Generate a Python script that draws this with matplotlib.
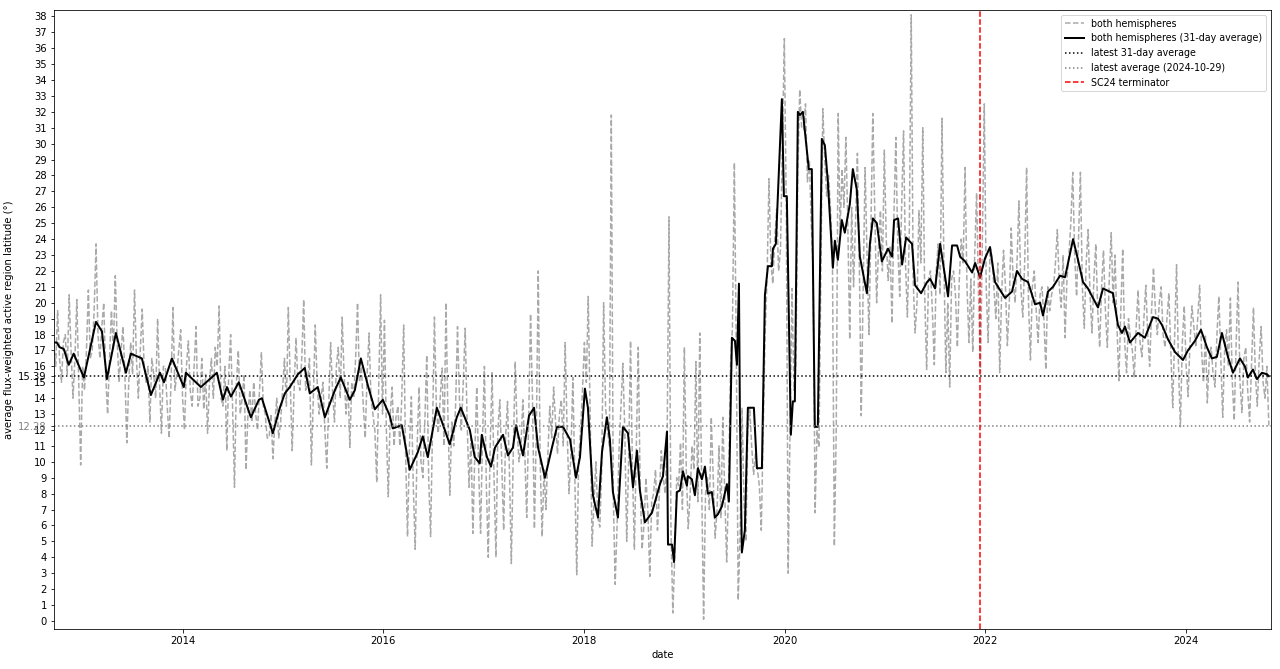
import numpy as np
import pandas as pd
import matplotlib
matplotlib.use("Agg")
import matplotlib.pyplot as plt
import matplotlib.dates as mdates

# Valori letti a occhio dal grafico originale (un valore ogni 7 giorni)
raw_start = "2012-09-18"
raw_step = "7D"
raw_lat = [
    # 2012-09 .. 2013-09
    17.5, 16.0, 19.5, 16.5, 15.0, 17.5, 18.0, 15.5, 20.5, 17.0, 14.0, 16.5, 20.2,
    15.0, 9.8, 16.0, 14.5, 17.0, 20.8, 16.5, 17.0, 19.5, 23.7, 18.0, 16.5, 18.5,
    20.0, 15.5, 13.0, 16.5, 19.5, 17.0, 21.7, 17.5, 15.0, 17.0, 18.5, 15.5, 11.2,
    15.0, 17.5, 15.5, 20.8, 16.5, 14.0, 17.0, 19.6, 16.0, 15.0, 16.0, 12.5, 16.5,
    # 2013-09 .. 2014-09
    15.5, 14.0, 19.0, 15.0, 11.8, 16.0, 16.0, 13.5, 11.5, 15.0, 19.7, 14.5, 15.5,
    17.0, 18.3, 14.0, 12.0, 16.0, 17.6, 14.5, 13.5, 16.0, 18.5, 13.5, 14.0, 16.5,
    13.3, 15.5, 11.8, 15.0, 16.5, 14.0, 17.2, 16.0, 19.8, 14.0, 13.5, 16.0, 10.7,
    15.5, 18.0, 13.5, 8.4, 15.0, 17.0, 13.0, 14.0, 15.5, 9.5, 13.0, 14.5, 12.5,
    # 2014-09 .. 2015-09
    15.0, 13.0, 12.0, 14.5, 16.9, 13.5, 13.0, 11.5, 11.5, 13.0, 10.2, 12.5, 14.0,
    11.5, 12.5, 14.5, 16.5, 13.5, 19.7, 15.0, 10.7, 14.5, 17.8, 15.0, 14.5, 16.5,
    20.2, 14.5, 15.0, 16.5, 9.8, 14.0, 18.6, 15.0, 13.0, 14.0, 15.0, 12.0, 9.6,
    13.5, 17.5, 14.5, 12.5, 16.0, 17.2, 14.0, 19.1, 15.5, 13.0, 15.0, 10.9, 15.0,
    # 2015-09 .. 2016-09
    14.0, 16.5, 20.0, 15.0, 16.0, 13.5, 11.5, 15.5, 18.1, 14.0, 13.0, 12.0, 8.7,
    14.5, 20.5, 13.0, 18.9, 12.0, 7.8, 13.0, 14.7, 11.0, 12.8, 13.5, 11.0, 14.0,
    18.6, 10.5, 5.3, 11.0, 14.1, 8.5, 4.5, 11.0, 14.7, 10.0, 9.0, 12.5, 16.7,
    9.0, 5.3, 12.0, 19.1, 13.5, 11.8, 14.0, 15.9, 11.0, 20.0, 13.0, 7.9, 12.5,
    # 2016-09 .. 2017-09
    11.0, 13.5, 18.5, 14.0, 12.0, 15.0, 18.4, 12.5, 8.4, 11.5, 5.5, 10.5, 14.7,
    9.5, 5.5, 11.5, 16.0, 8.5, 4.0, 11.0, 15.6, 9.0, 4.0, 12.0, 13.9, 10.0,
    5.7, 11.5, 13.8, 9.5, 3.6, 10.5, 16.3, 12.0, 10.0, 11.0, 13.9, 10.5, 6.5,
    12.5, 19.3, 14.0, 5.8, 12.0, 22.0, 10.0, 5.3, 9.5, 7.0, 10.5, 13.5, 11.5,
    # 2017-09 .. 2018-09
    14.7, 12.5, 10.5, 13.0, 13.9, 11.0, 17.5, 12.0, 8.0, 10.5, 15.3, 9.0, 2.9,
    10.0, 12.0, 14.5, 17.5, 15.0, 20.4, 13.0, 4.7, 7.5, 10.0, 6.5, 5.9, 9.5,
    20.0, 13.5, 12.0, 11.0, 31.8, 8.0, 2.3, 6.0, 10.7, 13.5, 16.2, 12.0, 5.0,
    10.0, 17.6, 9.5, 4.5, 11.0, 17.2, 8.5, 4.5, 6.0, 9.0, 7.0, 2.8, 7.5,
    # 2018-09 .. 2019-09
    8.0, 9.5, 5.7, 8.0, 10.7, 9.0, 8.0, 11.0, 25.4, 6.0, 0.5, 4.0, 9.0,
    8.5, 11.2, 7.0, 17.2, 9.5, 5.8, 8.0, 11.0, 9.5, 16.3, 7.5, 18.1, 8.5,
    0.1, 8.0, 9.0, 7.0, 12.8, 9.0, 5.2, 7.0, 11.0, 6.5, 12.8, 8.0, 3.7,
    8.5, 16.0, 18.5, 28.8, 17.0, 1.3, 5.5, 13.4, 7.5, 5.0, 12.0, 13.4, 11.0,
    # 2019-09 .. 2020-09
    9.2, 10.5, 9.5, 8.5, 5.7, 12.0, 18.1, 21.5, 27.8, 22.5, 21.2, 24.0, 25.9,
    22.0, 23.4, 30.0, 36.6, 26.0, 3.0, 12.5, 20.9, 14.5, 16.0, 28.0, 33.4, 31.0,
    30.9, 32.5, 27.6, 29.0, 25.0, 22.0, 6.8, 12.0, 10.9, 22.0, 32.2, 29.0, 26.7,
    28.0, 25.9, 23.0, 4.7, 12.0, 31.9, 24.5, 28.4, 26.0, 30.4, 25.0, 17.7, 26.0,
    # 2020-09 .. 2021-09
    21.0, 25.0, 29.4, 22.5, 12.9, 21.0, 28.5, 23.0, 18.0, 24.5, 31.9, 26.0, 20.0,
    23.5, 25.8, 22.0, 29.6, 24.0, 21.4, 23.5, 18.7, 25.5, 30.4, 23.5, 20.4, 26.0,
    30.8, 22.5, 19.1, 24.5, 38.1, 21.5, 18.1, 20.0, 25.8, 22.5, 31.0, 20.5, 15.8,
    21.5, 22.0, 19.5, 16.1, 22.0, 23.7, 20.5, 31.6, 22.5, 15.6, 20.0, 14.7, 21.5,
    # 2021-09 .. 2022-09
    22.0, 20.5, 17.2, 21.5, 24.0, 22.5, 28.5, 21.0, 17.5, 21.5, 16.9, 23.0, 26.9,
    20.5, 15.6, 24.0, 32.5, 21.0, 17.5, 23.5, 22.9, 21.0, 19.0, 22.5, 15.6, 20.5,
    23.3, 21.0, 17.3, 20.0, 24.7, 21.5, 20.0, 22.5, 26.4, 21.0, 19.1, 22.5, 28.5,
    20.0, 16.4, 21.0, 22.0, 19.5, 17.5, 20.5, 21.0, 19.0, 15.8, 21.0, 19.5, 20.5,
    # 2022-09 .. 2023-09
    21.0, 22.5, 24.6, 21.0, 19.7, 23.0, 17.8, 21.5, 23.0, 25.0, 28.2, 23.0, 20.4,
    24.0, 28.2, 21.0, 18.4, 22.5, 24.6, 20.5, 18.1, 21.5, 23.7, 19.5, 17.2, 21.0,
    23.3, 19.5, 17.2, 21.5, 24.4, 20.0, 23.0, 18.5, 15.1, 19.5, 23.4, 17.5, 15.6,
    19.0, 17.8, 17.0, 15.3, 18.5, 20.8, 17.5, 16.6, 19.0, 21.1, 18.0, 16.0, 19.5,
    # 2023-09 .. 2024-09
    22.2, 19.5, 18.0, 20.0, 21.0, 18.0, 17.2, 19.0, 20.6, 17.0, 13.4, 18.0, 22.4,
    16.0, 12.2, 17.5, 19.8, 16.0, 14.1, 17.5, 19.8, 18.5, 17.2, 19.0, 21.1, 17.0,
    15.0, 18.0, 13.7, 16.5, 17.2, 15.5, 14.7, 18.0, 20.4, 16.5, 12.8, 17.0, 18.3,
    16.0, 20.3, 15.0, 12.6, 17.5, 21.3, 15.0, 13.1, 16.5, 17.2, 14.5, 12.5, 16.0,
    # 2024-09 .. 2024-10-29
    19.7, 15.5, 13.5, 16.5, 18.5, 15.0, 14.0, 16.0, 12.28,
]

# media mobile a 31 giorni (anno decimale, latitudine)
avg_year = [
    2012.714, 2012.744, 2012.774, 2012.814, 2012.864, 2012.913, 2013.013, 2013.133,
    2013.193, 2013.242, 2013.332, 2013.432, 2013.482, 2013.591, 2013.681, 2013.771,
    2013.811, 2013.890, 2014.010, 2014.030, 2014.180, 2014.339, 2014.399, 2014.439,
    2014.479, 2014.558, 2014.678, 2014.758, 2014.788, 2014.897, 2014.967, 2015.017,
    2015.067, 2015.147, 2015.216, 2015.266, 2015.346, 2015.416, 2015.516, 2015.575,
    2015.665, 2015.715, 2015.775, 2015.845, 2015.914, 2015.994, 2016.064, 2016.094,
    2016.184, 2016.263, 2016.343, 2016.393, 2016.443, 2016.533, 2016.602, 2016.662,
    2016.732, 2016.772, 2016.862, 2016.911, 2016.961, 2016.981, 2017.031, 2017.071,
    2017.111, 2017.191, 2017.240, 2017.290, 2017.320, 2017.390, 2017.450, 2017.500,
    2017.540, 2017.609, 2017.679, 2017.729, 2017.789, 2017.859, 2017.918, 2017.958,
    2018.008, 2018.038, 2018.088, 2018.138, 2018.178, 2018.227, 2018.257, 2018.287,
    2018.337, 2018.387, 2018.437, 2018.487, 2018.527, 2018.556, 2018.606, 2018.676,
    2018.756, 2018.786, 2018.826, 2018.836, 2018.876, 2018.896, 2018.925, 2018.955,
    2018.985, 2019.025, 2019.035, 2019.075, 2019.105, 2019.135, 2019.175, 2019.205,
    2019.234, 2019.274, 2019.304, 2019.334, 2019.374, 2019.424, 2019.444, 2019.474,
    2019.504, 2019.524, 2019.544, 2019.553, 2019.573, 2019.603, 2019.633, 2019.693,
    2019.723, 2019.773, 2019.803, 2019.833, 2019.873, 2019.883, 2019.912, 2019.972,
    2019.992, 2020.022, 2020.062, 2020.082, 2020.102, 2020.132, 2020.152, 2020.182,
    2020.241, 2020.271, 2020.301, 2020.331, 2020.371, 2020.401, 2020.431, 2020.481,
    2020.501, 2020.531, 2020.570, 2020.600, 2020.650, 2020.680, 2020.720, 2020.750,
    2020.820, 2020.850, 2020.880, 2020.919, 2020.969, 2021.029, 2021.069, 2021.089,
    2021.129, 2021.169, 2021.209, 2021.268, 2021.298, 2021.358, 2021.418, 2021.448,
    2021.498, 2021.548, 2021.577, 2021.627, 2021.667, 2021.717, 2021.747, 2021.797,
    2021.867, 2021.897, 2021.946, 2021.996, 2022.046, 2022.096, 2022.126, 2022.196,
    2022.265, 2022.315, 2022.365, 2022.425, 2022.495, 2022.545, 2022.574, 2022.624,
    2022.674, 2022.744, 2022.794, 2022.824, 2022.874, 2022.923, 2022.973, 2023.023,
    2023.123, 2023.173, 2023.272, 2023.322, 2023.362, 2023.392, 2023.442, 2023.522,
    2023.591, 2023.671, 2023.721, 2023.761, 2023.821, 2023.891, 2023.970, 2024.020,
    2024.090, 2024.150, 2024.210, 2024.259, 2024.309, 2024.359, 2024.419, 2024.469,
    2024.539, 2024.588, 2024.618, 2024.668, 2024.708, 2024.758, 2024.808, 2024.827,
]
avg_lat = [
    17.5, 17.5, 17.2, 17.1, 16.1, 16.8, 15.3, 18.8,
    18.2, 15.2, 18.1, 15.6, 16.8, 16.5, 14.2, 15.6,
    15.0, 16.5, 14.7, 15.6, 14.7, 15.6, 13.9, 14.7,
    14.1, 15.0, 12.8, 13.9, 14.0, 11.8, 13.4, 14.3,
    14.7, 15.5, 15.9, 14.3, 14.7, 12.8, 14.5, 15.3,
    13.9, 14.5, 16.5, 14.8, 13.3, 13.9, 12.9, 12.1,
    12.3, 9.5, 10.6, 11.6, 10.3, 13.4, 12.2, 11.1,
    12.8, 13.4, 12.0, 10.3, 9.9, 11.7, 10.3, 9.7,
    10.9, 11.7, 10.4, 10.9, 12.3, 10.4, 12.9, 13.4,
    10.9, 9.0, 10.9, 12.2, 12.2, 11.4, 9.0, 10.3,
    14.6, 13.4, 7.9, 6.5, 10.6, 12.8, 11.4, 8.1,
    6.5, 12.2, 11.8, 8.4, 10.7, 8.2, 6.2, 6.8,
    8.6, 9.1, 11.9, 4.8, 4.8, 3.7, 8.1, 8.2,
    9.4, 8.5, 9.1, 8.9, 7.9, 9.6, 8.9, 9.7,
    8.0, 8.1, 6.5, 6.7, 7.2, 8.6, 7.5, 17.8,
    17.6, 16.1, 21.2, 13.4, 4.3, 5.7, 13.4, 13.4,
    9.6, 9.6, 20.5, 22.3, 22.3, 23.4, 23.7, 32.8,
    26.7, 26.7, 11.7, 13.8, 13.8, 32.0, 31.8, 32.0,
    28.4, 28.4, 12.2, 12.2, 30.3, 29.9, 27.6, 22.2,
    23.9, 22.7, 25.2, 24.4, 26.2, 28.4, 27.1, 22.9,
    20.6, 23.7, 25.3, 25.0, 22.6, 23.4, 22.9, 25.2,
    25.3, 22.4, 24.1, 23.7, 21.1, 20.6, 21.3, 21.5,
    20.9, 23.7, 22.5, 20.4, 23.6, 23.6, 22.9, 22.6,
    21.9, 22.5, 21.6, 22.8, 23.5, 21.3, 21.0, 20.3,
    20.7, 22.0, 21.5, 21.3, 19.9, 20.0, 19.2, 20.7,
    21.0, 21.7, 21.6, 22.5, 24.0, 22.7, 21.3, 20.9,
    19.7, 20.9, 20.6, 18.6, 18.1, 18.5, 17.5, 18.1,
    17.8, 19.1, 19.0, 18.6, 17.7, 16.9, 16.4, 17.0,
    17.6, 18.3, 17.2, 16.5, 16.6, 18.1, 16.6, 15.6,
    16.5, 16.0, 15.3, 15.8, 15.2, 15.6, 15.5, 15.39,
]

latest_avg = 15.39
latest_raw = 12.28
latest_date = "2024-10-29"
sc24_terminator = "2021-12-13"


def decimal_year_to_date(years):
    # anno decimale -> datetime
    base = pd.to_datetime([f"{int(y)}-01-01" for y in years])
    return base + pd.to_timedelta([(y % 1) * 365.25 for y in years], unit="D")


raw_dates = pd.date_range(raw_start, periods=len(raw_lat), freq=raw_step)
avg_dates = decimal_year_to_date(avg_year)

fig, ax = plt.subplots(figsize=(1280 / 72, 669 / 72), dpi=72)
fig.subplots_adjust(left=0.042, right=0.993, top=0.985, bottom=0.060)

ax.plot(raw_dates, raw_lat, color="darkgray", linestyle="--", linewidth=1.5,
        label="both hemispheres")
ax.plot(avg_dates, avg_lat, color="black", linewidth=2.0,
        label="both hemispheres (31-day average)")
ax.axhline(latest_avg, color="black", linestyle=":", linewidth=1.5,
           label="latest 31-day average")
ax.axhline(latest_raw, color="gray", linestyle=":", linewidth=1.5,
           label="latest average ({})".format(latest_date))
ax.axvline(pd.Timestamp(sc24_terminator), color="red", linestyle="--",
           linewidth=1.5, label="SC24 terminator")

# tick interi piu' i due valori piu' recenti
ticks = list(range(0, 39)) + [latest_avg, latest_raw]
labels = [str(t) for t in range(0, 39)] + ["{:.2f}".format(latest_avg),
                                           "{:.2f}".format(latest_raw)]
ax.set_yticks(ticks, labels)
tl = ax.get_yticklabels()
tl[-2].set_color("black")
tl[-1].set_color("gray")

ax.xaxis.set_major_locator(mdates.YearLocator(2))
ax.xaxis.set_major_formatter(mdates.DateFormatter("%Y"))
ax.set_xlim(pd.Timestamp("2012-09-18"), pd.Timestamp("2024-11-06"))
ax.set_ylim(-0.5, 38.4)

ax.set_xlabel("date")
ax.set_ylabel("average flux-weighted active region latitude (°)")
ax.legend(loc="upper right", fontsize=9.5)

fig.savefig("out.png", dpi=72)
plt.close()
